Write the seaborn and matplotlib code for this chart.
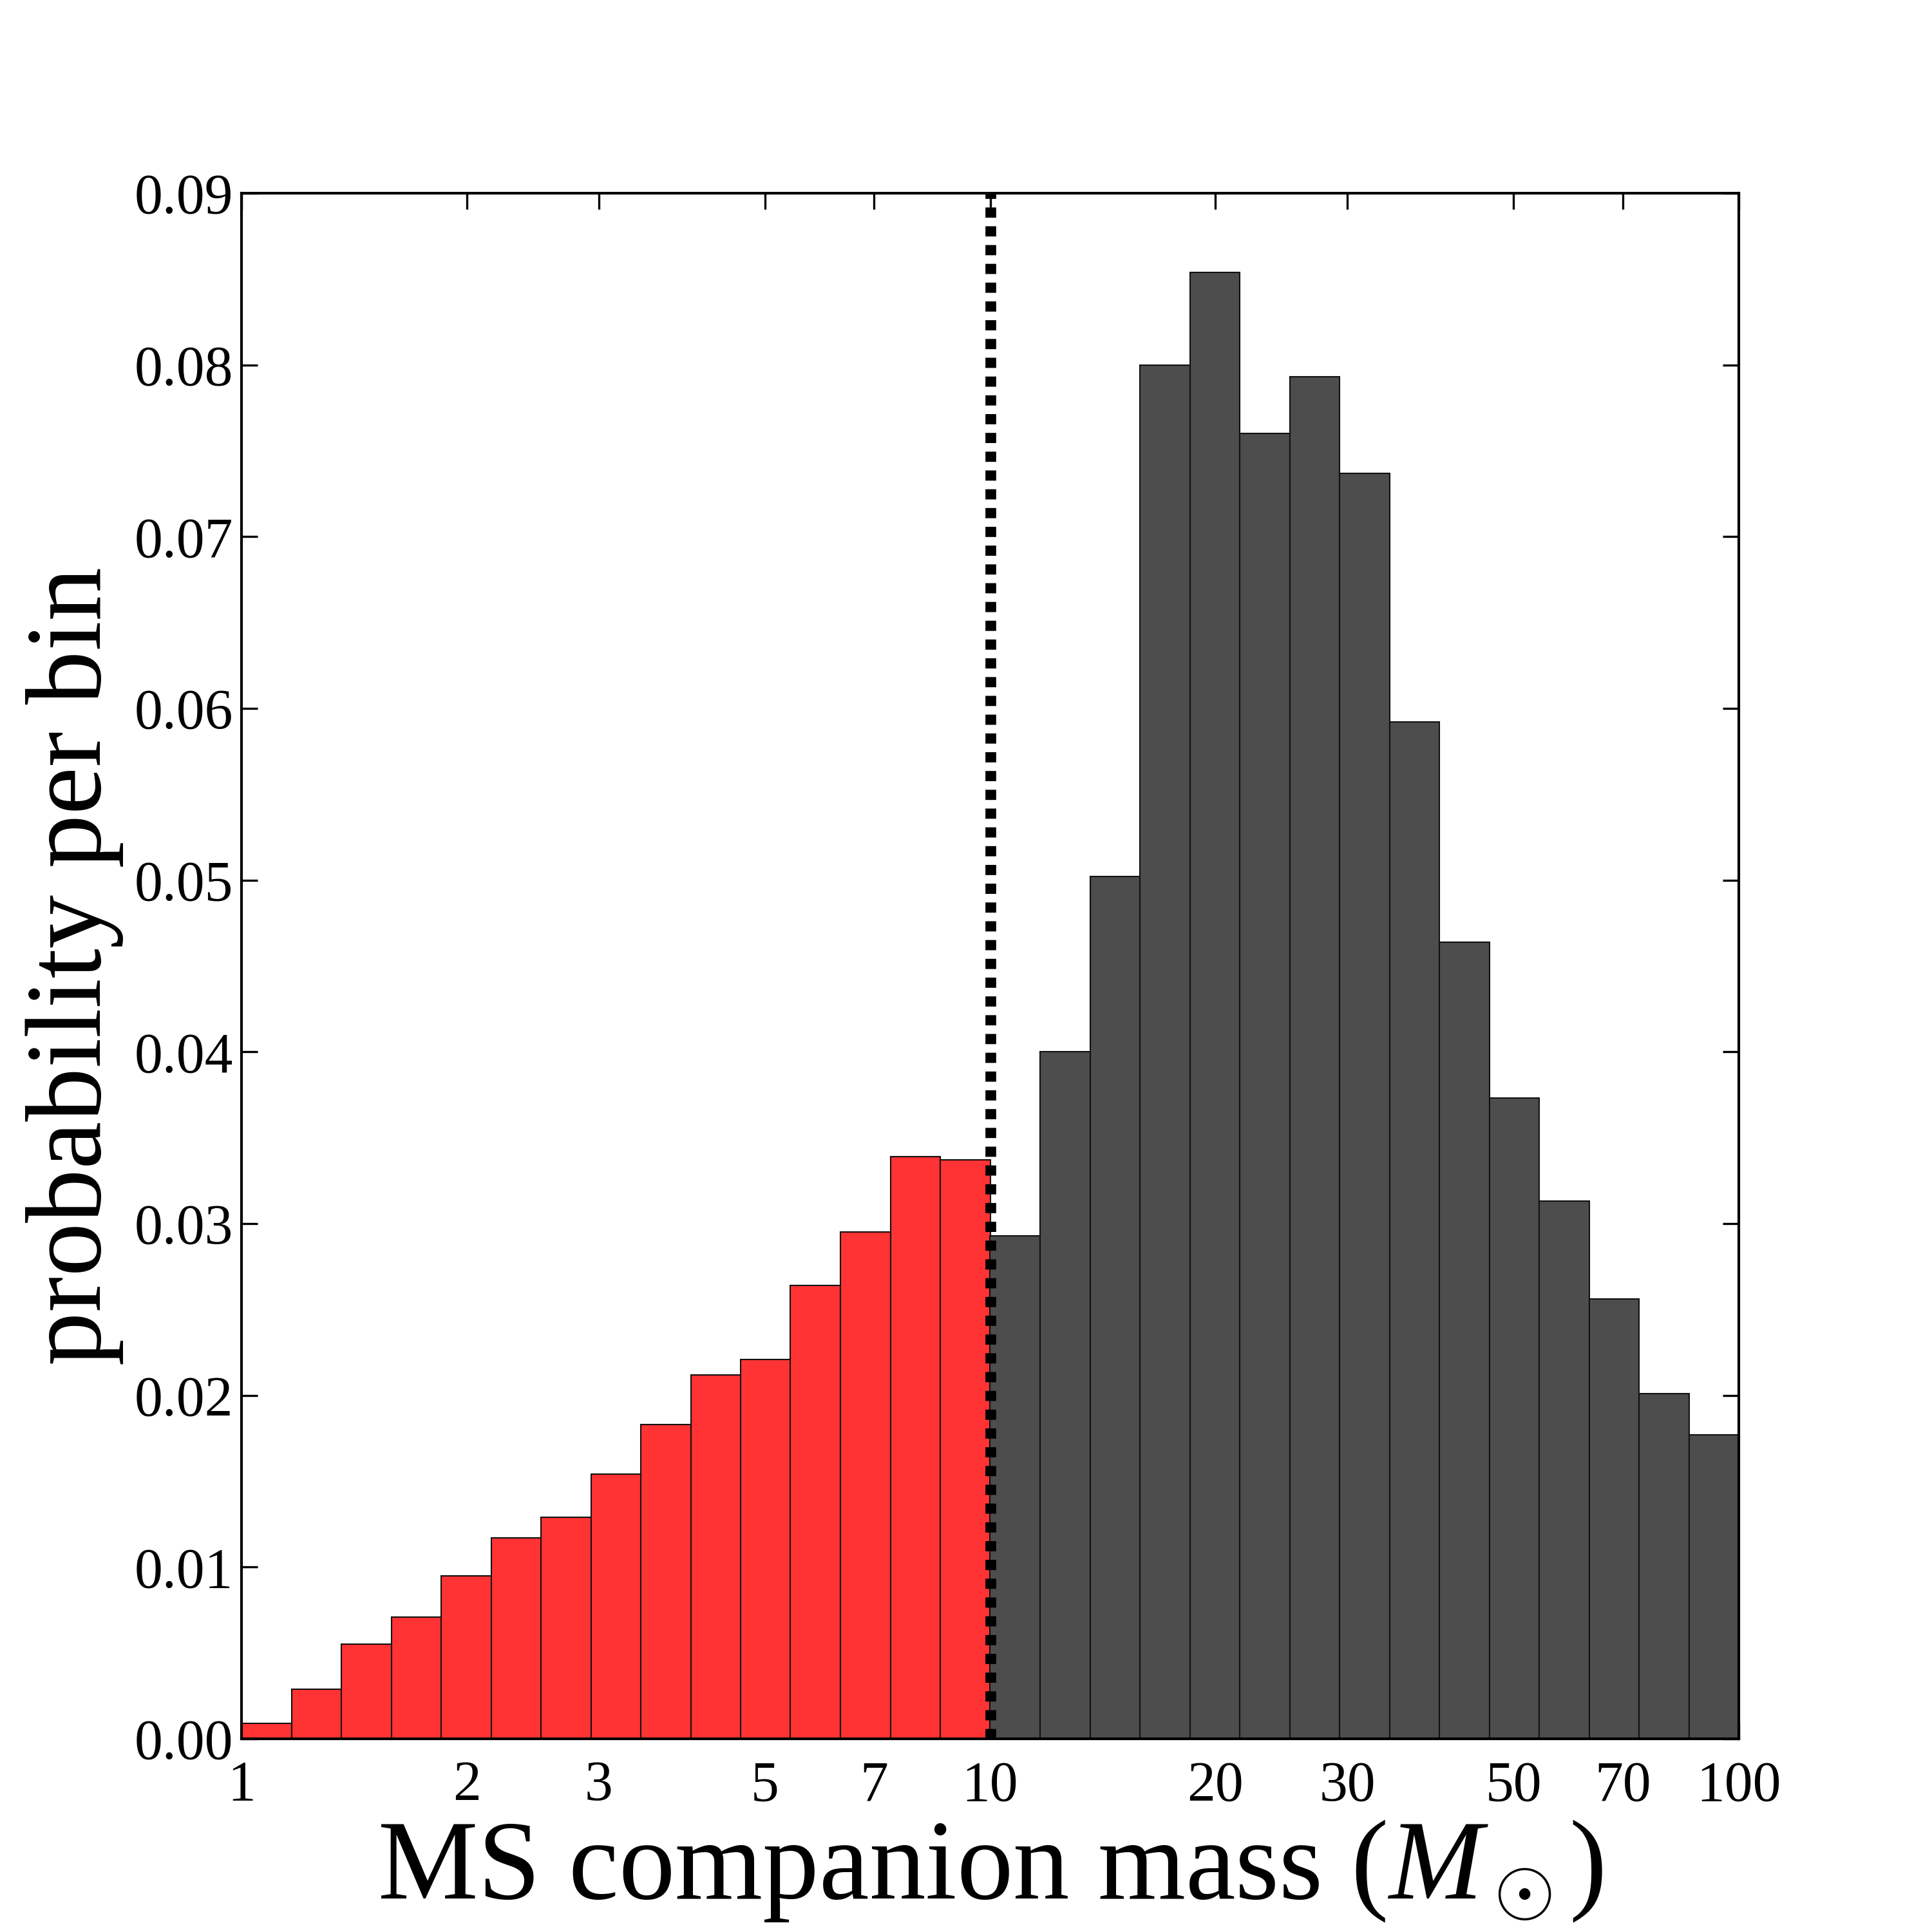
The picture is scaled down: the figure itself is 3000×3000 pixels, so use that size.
import numpy as np
import pandas as pd
import matplotlib
matplotlib.use('Agg')
import matplotlib.pyplot as plt
import seaborn as sns

# probability per log-spaced mass bin (15 bins per decade, 1-100 Msun)
prob_low = [0.0009, 0.0029, 0.0055, 0.0071, 0.0095, 0.0117, 0.0129, 0.0154,
            0.0183, 0.0212, 0.0221, 0.0264, 0.0295, 0.0339, 0.0337]
prob_high = [0.0293, 0.0400, 0.0502, 0.0800, 0.0854, 0.0760, 0.0793, 0.0737,
             0.0592, 0.0464, 0.0373, 0.0313, 0.0256, 0.0201, 0.0177]
x_ticks = [1, 2, 3, 5, 7, 10, 20, 30, 50, 70, 100]
y_ticks = [0.00, 0.01, 0.02, 0.03, 0.04, 0.05, 0.06, 0.07, 0.08, 0.09]
m_cut = 10

n_bins = len(prob_low) + len(prob_high)
edges = np.logspace(0, 2, n_bins + 1)
centers = np.sqrt(edges[:-1] * edges[1:])
df = pd.DataFrame({'mass': centers, 'prob': prob_low + prob_high})
df['side'] = np.where(df['mass'] < m_cut, 'low', 'high')

sns.set_style('ticks')
plt.rcParams['font.family'] = ['Liberation Serif', 'DejaVu Serif']
plt.rcParams['mathtext.fontset'] = 'custom'
plt.rcParams['mathtext.rm'] = 'Liberation Serif'
plt.rcParams['mathtext.it'] = 'Liberation Serif:italic'
for key in ['text.color', 'axes.labelcolor', 'xtick.color', 'ytick.color', 'axes.edgecolor']:
    plt.rcParams[key] = 'black'

fig, ax = plt.subplots(figsize=(10, 10))
fig.subplots_adjust(left=0.125, right=0.9, bottom=0.1, top=0.9)

for side, color in [('low', '#ff3333'), ('high', '#4d4d4d')]:
    sub = df[df['side'] == side]
    sns.histplot(data=sub, x='mass', weights='prob', bins=30, binrange=(0, 2),
                 log_scale=True, color=color, alpha=1, edgecolor='#111111',
                 linewidth=0.5, ax=ax)

ax.axvline(m_cut, color='black', lw=4, linestyle=(0, (0.95, 0.8)))

ax.set_xlim(1, 100)
ax.set_ylim(0, 0.09)
ax.set_xticks(x_ticks)
ax.set_xticklabels([str(t) for t in x_ticks])
ax.xaxis.set_minor_locator(matplotlib.ticker.NullLocator())
ax.set_yticks(y_ticks)
ax.set_yticklabels([f'{t:.2f}' for t in y_ticks])
ax.tick_params(direction='in', top=True, right=True, length=6, width=0.8,
               labelsize=21)
ax.tick_params(axis='y', pad=3)
ax.tick_params(axis='x', pad=8)
for s in ax.spines.values():
    s.set_linewidth(1)

ax.set_xlabel(r'MS companion mass ($M_\odot$)', fontsize=42, labelpad=2)
ax.set_ylabel('probability per bin', fontsize=40)

fig.savefig('out.png', dpi=300)
